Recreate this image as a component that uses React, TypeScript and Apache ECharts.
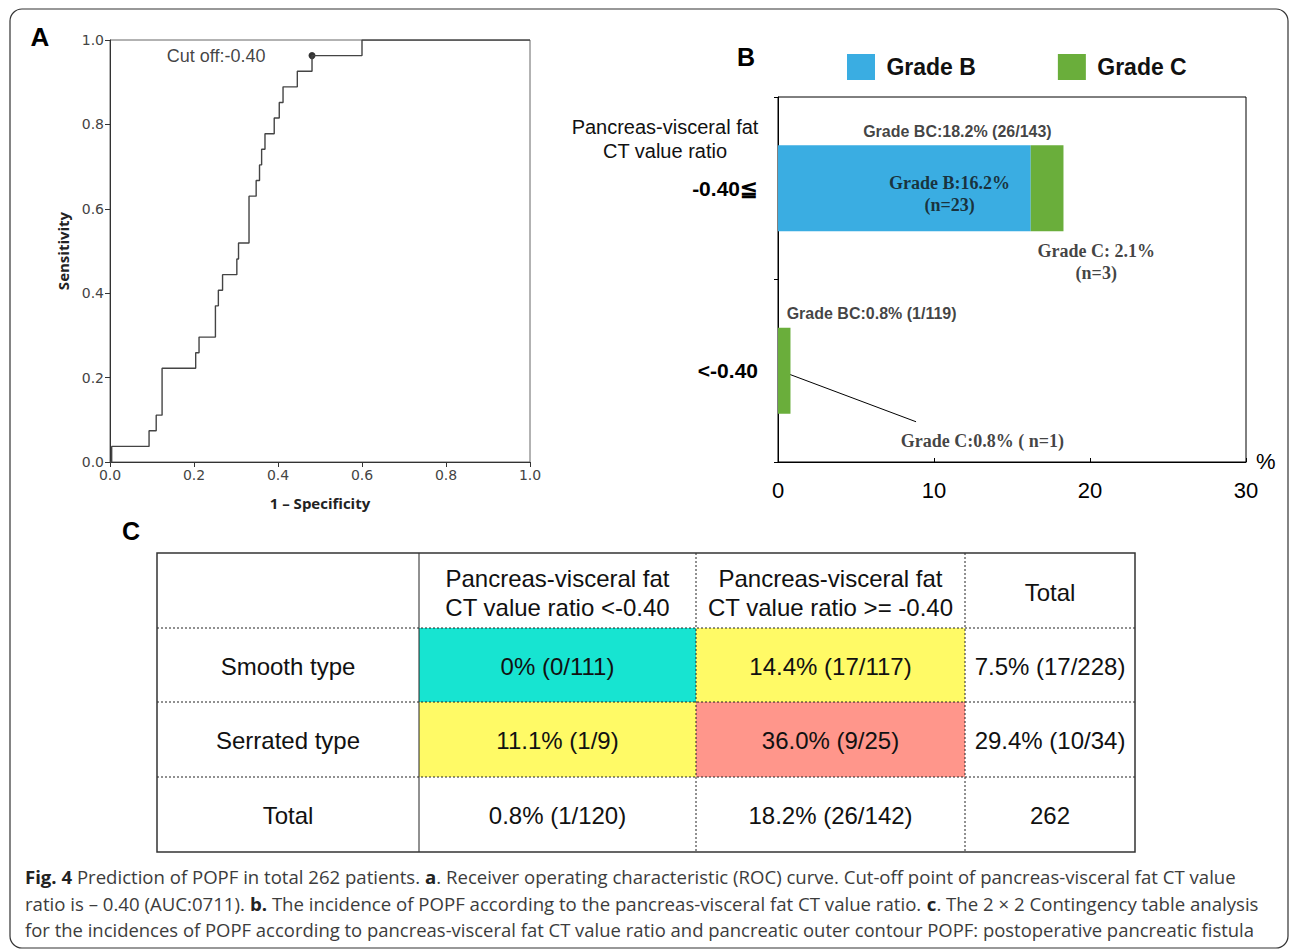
import React, { useEffect, useRef } from "react";
import * as echarts from "echarts";

// ---------- Panel A: ROC curve (staircase vertices) ----------
const rocFpr = [0, 0.004, 0.093, 0.11, 0.124, 0.204, 0.212, 0.251, 0.258, 0.268, 0.302, 0.306, 0.331, 0.348, 0.356, 0.361, 0.369, 0.391, 0.403, 0.412, 0.446, 0.481, 0.6, 1.0];
const rocTpr = [0, 0.037, 0.074, 0.111, 0.222, 0.259, 0.296, 0.37, 0.407, 0.444, 0.481, 0.519, 0.63, 0.667, 0.704, 0.741, 0.778, 0.815, 0.852, 0.889, 0.926, 0.963, 1.0, 1.0];
const cutoffPoint = [0.481, 0.963];
const cutoffLabel = "Cut off:-0.40";
const rocXName = "1 \u2013 Specificity";
const rocYName = "Sensitivity";

// ---------- Panel B: stacked bars ----------
const barCategories = ["-0.40\u2266", "<-0.40"];
const seriesNames = ["Grade B", "Grade C"];
const gradeB = [16.2, 0];
const gradeC = [2.1, 0.8];
const annotationTexts = [
  "Grade BC:18.2% (26/143)",
  "Grade B:16.2%\n(n=23)",
  "Grade C: 2.1%\n(n=3)",
  "Grade BC:0.8% (1/119)",
  "Grade C:0.8% ( n=1)",
];
const annotationX = [11.5, 11.0, 20.4, 6.0, 13.1];
const annotationCat = [0, 0, 0, 1, 1];
const leaderLine = [[0.13, 1, 8.85]];
const barAxisTitle = "Pancreas-visceral fat\nCT value ratio";

// ---------- Panel C: contingency table ----------
const tableColHeaders = ["", "Pancreas-visceral fat\nCT value ratio <-0.40", "Pancreas-visceral fat\nCT value ratio >= -0.40", "Total"];
const tableRowHeaders = ["Smooth type", "Serrated type", "Total"];
const tableCells = [
  ["0% (0/111)", "14.4% (17/117)", "7.5% (17/228)"],
  ["11.1% (1/9)", "36.0% (9/25)", "29.4% (10/34)"],
  ["0.8% (1/120)", "18.2% (26/142)", "262"],
];
const tableCellColors = [
  ["#17E4D1", "#FFFA66", ""],
  ["#FFFA66", "#FF968B", ""],
  ["", "", ""],
];

// ---------- Caption ----------
const captionLines: [string, boolean][][] = [
  [["Fig. 4", true], [" Prediction of POPF in total 262 patients. ", false], ["a", true], [". Receiver operating characteristic (ROC) curve. Cut-off point of pancreas-visceral fat CT value", false]],
  [["ratio is \u2013 0.40 (AUC:0711). ", false], ["b.", true], [" The incidence of POPF according to the pancreas-visceral fat CT value ratio. ", false], ["c", true], [". The 2 \u00d7 2 Contingency table analysis", false]],
  [["for the incidences of POPF according to pancreas-visceral fat CT value ratio and pancreatic outer contour POPF: postoperative pancreatic fistula", false]],
];

const SANS = "'Liberation Sans', Arial, sans-serif";
const SERIF = "'Liberation Serif', 'Times New Roman', serif";
const CAP = "'Open Sans', sans-serif";

export default function App() {
  const ref = useRef<HTMLDivElement>(null);
  useEffect(() => {
    if (!ref.current) return;
    const chart = echarts.init(ref.current, null, { renderer: "svg" });

    // layout constants
    const colX = [157, 419, 696, 965, 1135];
    const rowY = [553, 628, 702, 777, 852];
    const capLeft = 25;
    const capY = [877, 904, 930];
    const capWidths = [1211, 1234, 1230];
    const capSize = 18;
    const annotationDy = [-57, 6, 74, -57, 70];

    const graphics: any[] = [];
    // outer frame
    graphics.push({ type: "rect", shape: { x: 10, y: 9, width: 1278, height: 939, r: 12 }, style: { fill: "none", stroke: "#333", lineWidth: 1.2 }, silent: true });
    // panel letters
    graphics.push({ type: "text", x: 40, y: 37, style: { text: "A", font: `bold 26px ${SANS}`, fill: "#000", align: "center", verticalAlign: "middle" } });
    graphics.push({ type: "text", x: 746, y: 57, style: { text: "B", font: `bold 25px ${SANS}`, fill: "#000", align: "center", verticalAlign: "middle" } });
    graphics.push({ type: "text", x: 131, y: 531, style: { text: "C", font: `bold 25px ${SANS}`, fill: "#000", align: "center", verticalAlign: "middle" } });
    // axis title for bar chart
    graphics.push({ type: "text", x: 665, y: 139, style: { text: barAxisTitle, font: `20px ${SANS}`, fill: "#111", align: "center", verticalAlign: "middle", lineHeight: 24 } });

    // table cell fills
    for (let r = 0; r < tableCells.length; r++) {
      for (let c = 0; c < tableCells[r].length; c++) {
        const col = tableCellColors[r][c];
        if (col) {
          graphics.push({ type: "rect", shape: { x: colX[c + 1], y: rowY[r + 1], width: colX[c + 2] - colX[c + 1], height: rowY[r + 2] - rowY[r + 1] }, style: { fill: col } });
        }
      }
    }
    // dotted horizontal lines
    for (let r = 1; r < rowY.length - 1; r++) {
      graphics.push({ type: "line", shape: { x1: colX[0], y1: rowY[r], x2: colX[colX.length - 1], y2: rowY[r] }, style: { stroke: "#222", lineWidth: 1, lineDash: [2, 2] } });
    }
    // vertical lines
    for (let c = 1; c < colX.length - 1; c++) {
      graphics.push({ type: "line", shape: { x1: colX[c], y1: rowY[0], x2: colX[c], y2: rowY[rowY.length - 1] }, style: { stroke: "#222", lineWidth: 1, lineDash: c === 1 ? null : [2, 2] } });
    }
    graphics.push({ type: "rect", shape: { x: colX[0], y: rowY[0], width: colX[4] - colX[0], height: rowY[4] - rowY[0] }, style: { fill: "none", stroke: "#333", lineWidth: 1.5 } });
    // header texts
    tableColHeaders.forEach((h, c) => {
      if (!h) return;
      graphics.push({ type: "text", x: (colX[c] + colX[c + 1]) / 2, y: (rowY[0] + rowY[1]) / 2 + 2, style: { text: h, font: `24px ${SANS}`, fill: "#111", align: "center", verticalAlign: "middle", lineHeight: 29 } });
    });
    tableRowHeaders.forEach((h, r) => {
      graphics.push({ type: "text", x: (colX[0] + colX[1]) / 2, y: (rowY[r + 1] + rowY[r + 2]) / 2 + 1, style: { text: h, font: `24px ${SANS}`, fill: "#111", align: "center", verticalAlign: "middle" } });
      tableCells[r].forEach((v, c) => {
        graphics.push({ type: "text", x: (colX[c + 1] + colX[c + 2]) / 2, y: (rowY[r + 1] + rowY[r + 2]) / 2 + 1, style: { text: v, font: `24px ${SANS}`, fill: "#111", align: "center", verticalAlign: "middle" } });
      });
    });

    // caption: measure and fit each line to the width in the reference
    const canvas = document.createElement("canvas");
    const ctx = canvas.getContext("2d")!;
    captionLines.forEach((segs, i) => {
      let total = 0;
      segs.forEach(([t, b]) => {
        ctx.font = `${b ? "bold " : ""}${capSize}px ${CAP}`;
        total += ctx.measureText(t).width;
      });
      const sx = capWidths[i] / total;
      const text = segs.map(([t, b]) => `{${b ? "b" : "r"}|${t}}`).join("");
      graphics.push({
        type: "group",
        x: capLeft,
        y: capY[i],
        scaleX: sx,
        children: [
          {
            type: "text",
            x: 0,
            y: 0,
            style: {
              text,
              verticalAlign: "middle",
              rich: {
                r: { fontFamily: CAP, fontSize: capSize, fill: "#3c3c3c", color: "#3c3c3c" },
                b: { fontFamily: CAP, fontSize: capSize, fontWeight: "bold", fill: "#222", color: "#222" },
              },
            },
          },
        ],
      });
    });

    const option: any = {
      animation: false,
      backgroundColor: "#fff",
      legend: {
        data: seriesNames,
        left: 847,
        top: 54,
        padding: 0,
        itemWidth: 28,
        itemHeight: 26,
        itemGap: 82,
        icon: "rect",
        formatter: (n: string) => " " + n,
        textStyle: { fontSize: 23, fontWeight: "bold", color: "#111", fontFamily: SANS },
      },
      grid: [
        { left: 110, top: 40, width: 420, height: 422, show: true, borderColor: "#666", borderWidth: 1, backgroundColor: "transparent" },
        { left: 778, top: 97, width: 468, height: 365, show: true, borderColor: "#000", borderWidth: 1, backgroundColor: "transparent" },
      ],
      xAxis: [
        {
          type: "value", gridIndex: 0, min: 0, max: 1, interval: 0.2,
          axisLine: { show: true, lineStyle: { color: "#333" } },
          axisTick: { show: true, length: 5, lineStyle: { color: "#333" } },
          axisLabel: { formatter: (v: number) => v.toFixed(1), color: "#444", fontSize: 14, margin: 6, fontFamily: "'DejaVu Sans', sans-serif" },
          splitLine: { show: false },
          name: rocXName, nameLocation: "middle", nameGap: 33,
          nameTextStyle: { fontWeight: "bold", fontSize: 15, color: "#222", fontFamily: CAP },
        },
        {
          type: "value", gridIndex: 1, min: 0, max: 30, interval: 10,
          axisLine: { show: true, lineStyle: { color: "#000" } },
          axisTick: { show: true, inside: true, length: 4, lineStyle: { color: "#000" } },
          axisLabel: { color: "#000", fontSize: 22, margin: 17, fontFamily: SANS },
          splitLine: { show: false },
          name: "%", nameLocation: "end", nameGap: 10,
          nameTextStyle: { fontSize: 22, color: "#000", fontFamily: SANS, verticalAlign: "bottom", padding: [0, 0, -10, 0] },
        },
      ],
      yAxis: [
        {
          type: "value", gridIndex: 0, min: 0, max: 1, interval: 0.2,
          axisLine: { show: true, lineStyle: { color: "#333" } },
          axisTick: { show: true, length: 5, lineStyle: { color: "#333" } },
          axisLabel: { formatter: (v: number) => v.toFixed(1), color: "#444", fontSize: 14, margin: 6, fontFamily: "'DejaVu Sans', sans-serif" },
          splitLine: { show: false },
          name: rocYName, nameLocation: "middle", nameGap: 40,
          nameTextStyle: { fontWeight: "bold", fontSize: 15, color: "#222", fontFamily: CAP },
        },
        {
          type: "category", gridIndex: 1, data: barCategories, inverse: true,
          axisLine: { show: true, lineStyle: { color: "#000" } },
          axisTick: { show: true, length: 4, lineStyle: { color: "#000" } },
          axisLabel: { color: "#000", fontSize: 21, fontWeight: "bold", margin: 20, fontFamily: SANS },
          splitLine: { show: false },
        },
      ],
      series: [
        {
          type: "line", xAxisIndex: 0, yAxisIndex: 0, step: "end", symbol: "none",
          data: rocFpr.map((x, i) => [x, rocTpr[i]]),
          lineStyle: { color: "#444", width: 1.4 },
          silent: true,
        },
        {
          type: "scatter", xAxisIndex: 0, yAxisIndex: 0, data: [cutoffPoint], symbolSize: 7,
          itemStyle: { color: "#000" },
          label: { show: true, formatter: cutoffLabel, position: "left", distance: 43, fontSize: 18, color: "#111", fontFamily: SANS },
          silent: true,
        },
        {
          name: seriesNames[0], type: "bar", xAxisIndex: 1, yAxisIndex: 1, stack: "bc", barWidth: "47%",
          data: gradeB, itemStyle: { color: "#3AADE2" },
        },
        {
          name: seriesNames[1], type: "bar", xAxisIndex: 1, yAxisIndex: 1, stack: "bc", barWidth: "47%",
          data: gradeC, itemStyle: { color: "#6AAE3B" },
        },
        {
          type: "scatter", xAxisIndex: 1, yAxisIndex: 1, symbolSize: 1, itemStyle: { color: "rgba(0,0,0,0)" }, silent: true,
          data: annotationX.map((x, i) => {
            const isBC = annotationTexts[i].startsWith("Grade BC");
            return {
              value: [x, annotationCat[i]],
              label: {
                show: true,
                position: "inside",
                offset: [0, annotationDy[i]],
                formatter: annotationTexts[i],
                fontFamily: isBC ? SANS : SERIF,
                fontSize: isBC ? 16 : 18,
                fontWeight: "bold",
                lineHeight: 22,
                color: "#111",
                align: "center",
                verticalAlign: "middle",
              },
            };
          }),
        },
        {
          type: "custom", xAxisIndex: 1, yAxisIndex: 1, silent: true,
          data: leaderLine,
          encode: { x: 0, y: 1 },
          renderItem: (_p: any, api: any) => {
            const s = api.coord([api.value(0), api.value(1)]);
            const e = api.coord([api.value(2), api.value(1)]);
            return { type: "line", shape: { x1: s[0], y1: s[1], x2: e[0], y2: e[1] + 51 }, style: { stroke: "#000", lineWidth: 1 } };
          },
        },
      ],
      graphic: graphics,
    };
    chart.setOption(option);
    return () => chart.dispose();
  }, []);
  return <div ref={ref} style={{ position: "absolute", left: 0, top: 0, width: 1292, height: 951, background: "#fff" }} />;
}
